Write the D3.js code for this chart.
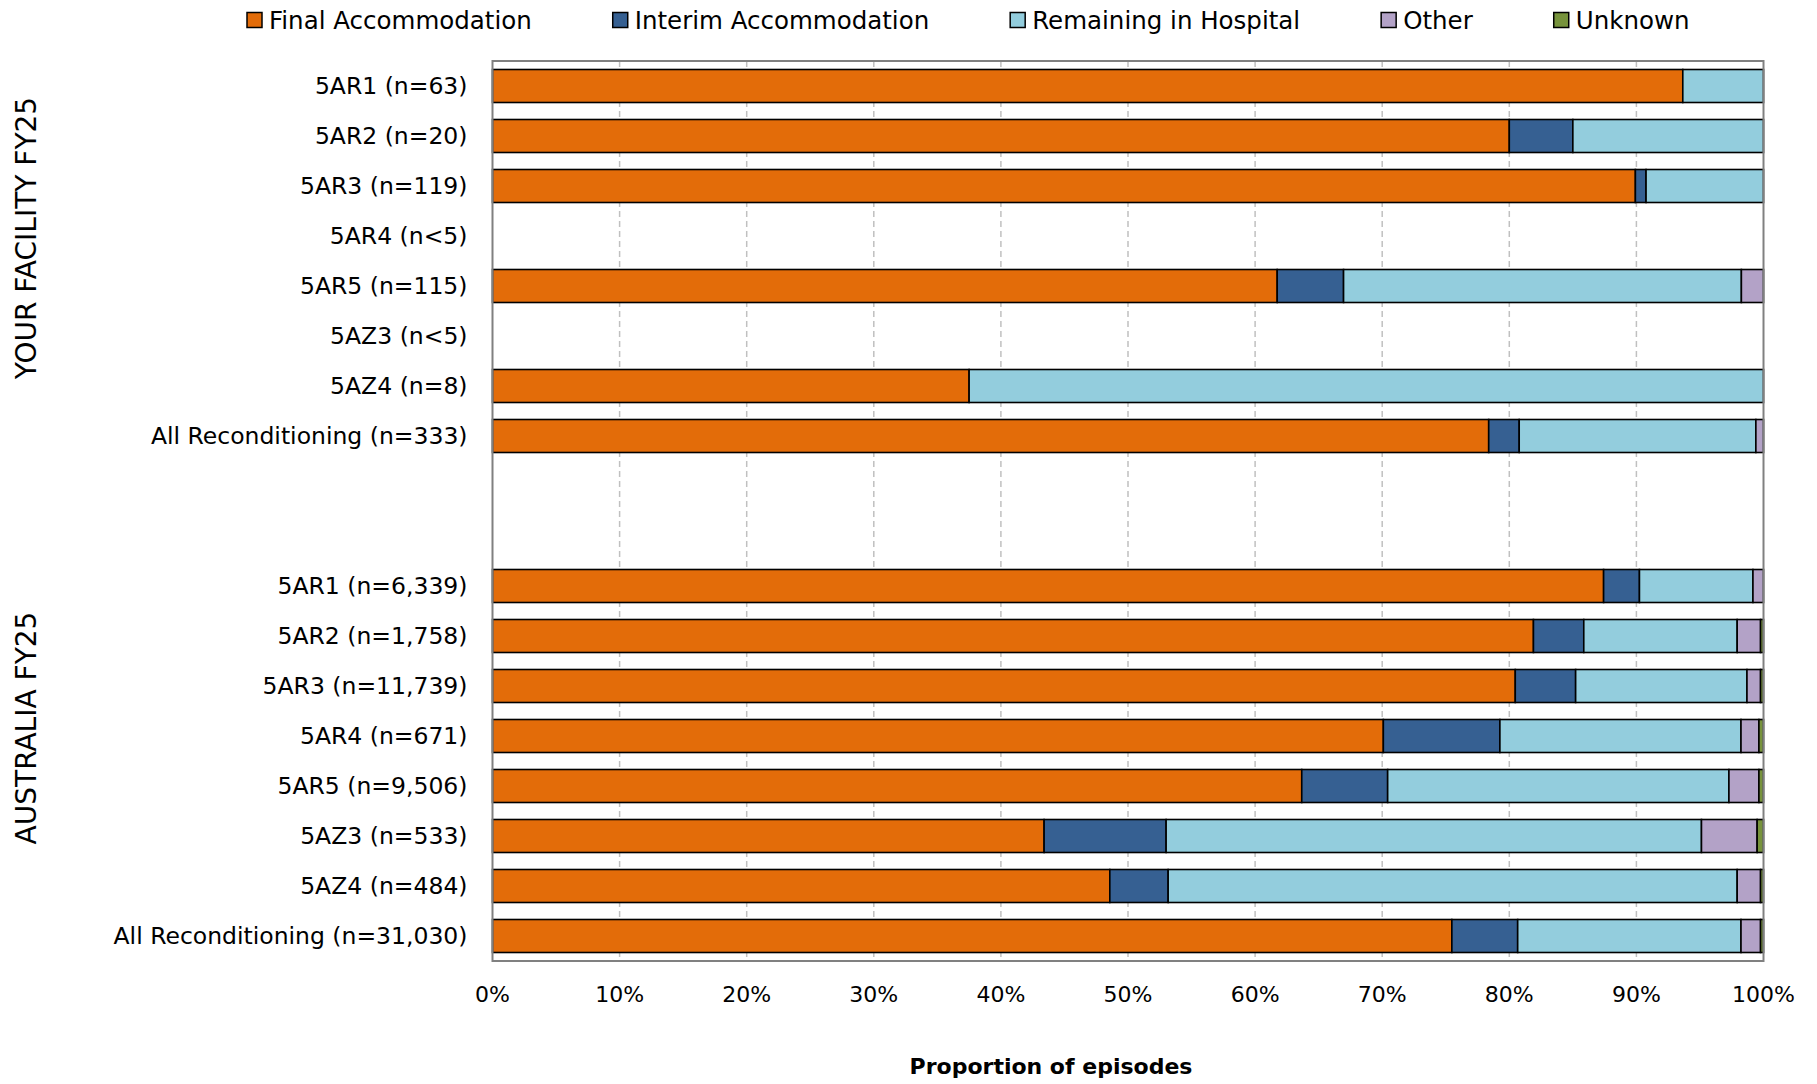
<!DOCTYPE html>
<html><head><meta charset="utf-8">
<script src="https://cdn.jsdelivr.net/npm/d3@7"></script>
<style>
body{margin:0;background:#fff;}
text{font-family:"DejaVu Sans",sans-serif;fill:#000;}
</style>
</head><body>
<svg id="chart" width="1817" height="1084"></svg>
<script>
// ---- data ----
const rowLabels = ["5AR1 (n=63)","5AR2 (n=20)","5AR3 (n=119)","5AR4 (n<5)","5AR5 (n=115)","5AZ3 (n<5)","5AZ4 (n=8)","All Reconditioning (n=333)","","",
  "5AR1 (n=6,339)","5AR2 (n=1,758)","5AR3 (n=11,739)","5AR4 (n=671)","5AR5 (n=9,506)","5AZ3 (n=533)","5AZ4 (n=484)","All Reconditioning (n=31,030)"];
const groupLabels = ["YOUR FACILITY FY25","AUSTRALIA FY25"];
const seriesNames = ["Final Accommodation","Interim Accommodation","Remaining in Hospital","Other","Unknown"];
const finalAcc  = [93.65,80.0,89.92,0,61.74,0,37.5,78.38,0,0, 87.42,81.9,80.47,70.09,63.67,43.4,48.57,75.48];
const interimAcc= [0,5.0,0.84,0,5.22,0,0,2.40,0,0, 2.82,3.96,4.75,9.17,6.76,9.6,4.59,5.18];
const remaining = [6.35,15.0,9.24,0,31.30,0,62.5,18.62,0,0, 8.93,12.07,13.48,18.97,26.85,42.12,44.77,17.57];
const other     = [0,0,0,0,1.74,0,0,0.60,0,0, 0.83,1.84,1.07,1.41,2.36,4.38,1.84,1.54];
const unknown   = [0,0,0,0,0,0,0,0,0,0, 0,0.23,0.23,0.36,0.36,0.5,0.23,0.23];
const xTicks = [0,10,20,30,40,50,60,70,80,90,100];
const colors = ["#E36C09","#366092","#93CDDD","#B3A2C7","#77933C"];

// ---- layout ----
const svg = d3.select("#chart");
const pLeft = 492.5, pRight = 1763.5, pTop = 61, pBottom = 961;
const rows = rowLabels.map((d,i)=>i);
const y = d3.scaleBand().domain(rows).range([pTop,pBottom]).paddingInner(0.34).paddingOuter(0.17);
const x = d3.scaleLinear().domain([0,100]).range([pLeft,pRight]);

// grid
svg.append("g").selectAll("line").data(xTicks.slice(1,-1)).join("line")
  .attr("x1",d=>x(d)).attr("x2",d=>x(d)).attr("y1",pTop).attr("y2",pBottom)
  .attr("stroke","#c0c0c0").attr("stroke-width",1.5).attr("stroke-dasharray","6,4");

// stacked bars
const table = rows.map(i=>({i, s0:finalAcc[i], s1:interimAcc[i], s2:remaining[i], s3:other[i], s4:unknown[i]}));
const stack = d3.stack().keys(["s0","s1","s2","s3","s4"])(table);
svg.append("g").selectAll("g").data(stack).join("g")
  .attr("fill",(d,k)=>colors[k])
  .selectAll("rect").data(d=>d.filter(p=>p[1]-p[0]>0)).join("rect")
  .attr("x",p=>x(p[0])).attr("width",p=>x(p[1])-x(p[0]))
  .attr("y",p=>y(p.data.i)).attr("height",y.bandwidth())
  .attr("stroke","#000").attr("stroke-width",1.6);

// plot border
svg.append("rect").attr("x",pLeft).attr("y",pTop).attr("width",pRight-pLeft).attr("height",pBottom-pTop)
  .attr("fill","none").attr("stroke","#808080").attr("stroke-width",2);

// category labels
svg.append("g").selectAll("text").data(rows).join("text")
  .attr("x",pLeft-25).attr("y",i=>y(i)+y.bandwidth()/2).attr("dy","0.36em")
  .attr("text-anchor","end").style("font-size","23.5px").text(i=>rowLabels[i]);

// group labels
const groupY = [238, 728];
svg.append("g").selectAll("text").data(groupLabels).join("text")
  .attr("transform",(d,k)=>`translate(36,${groupY[k]}) rotate(-90)`)
  .attr("text-anchor","middle").style("font-size","28px").text(d=>d);

// x axis labels
svg.append("g").selectAll("text").data(xTicks).join("text")
  .attr("x",d=>x(d)).attr("y",1002).attr("text-anchor","middle")
  .style("font-size","22px").text(d=>d+"%");
svg.append("text").attr("x",1051).attr("y",1074).attr("text-anchor","middle")
  .style("font-size","22px").style("font-weight","bold").text("Proportion of episodes");

// legend
const lg = svg.append("g");
let lx = 247;
seriesNames.forEach((name,k)=>{
  lg.append("rect").attr("x",lx).attr("y",12.5).attr("width",15).attr("height",15)
    .attr("fill",colors[k]).attr("stroke","#000").attr("stroke-width",1.5);
  const t = lg.append("text").attr("x",lx+22).attr("y",20).attr("dy","0.36em")
    .style("font-size","24.5px").text(name);
  lx += 22 + t.node().getComputedTextLength() + 81;
});
</script>
</body></html>
